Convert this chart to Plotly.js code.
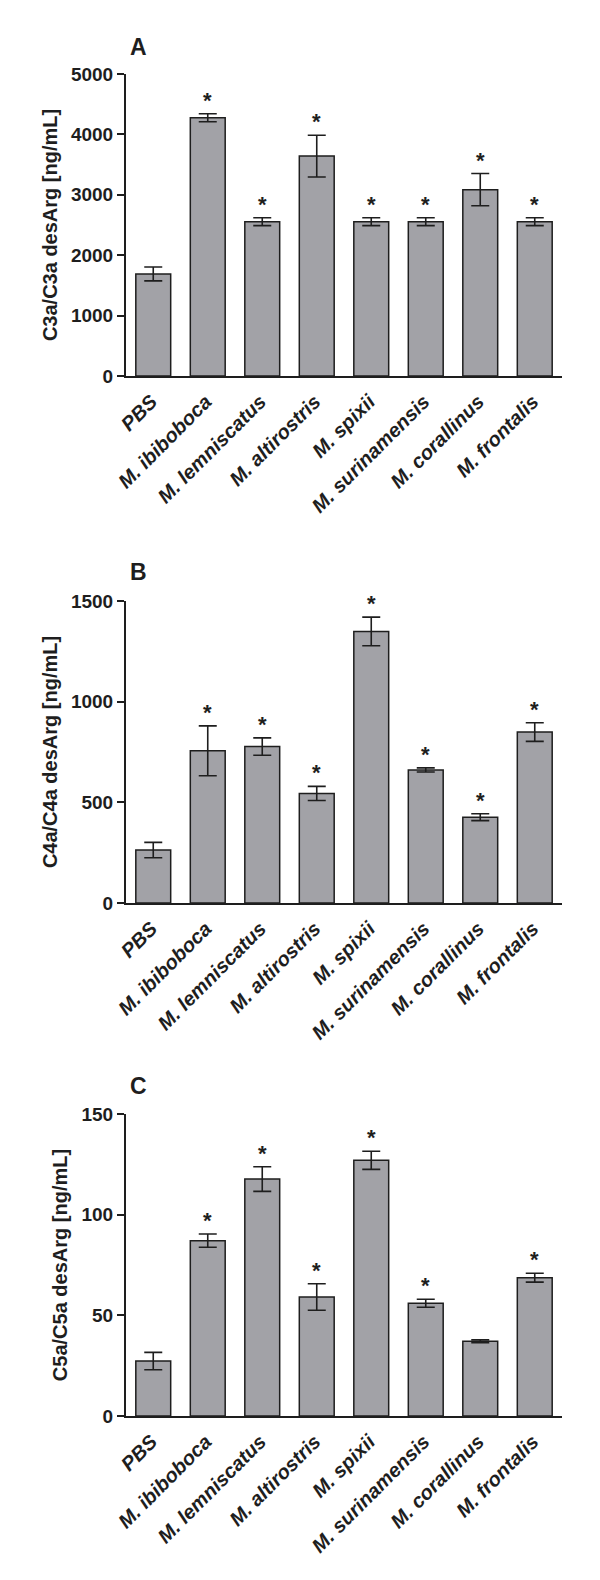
<!DOCTYPE html>
<html>
<head>
<meta charset="utf-8">
<script src="https://cdn.plot.ly/plotly-3.0.1.min.js"></script>
<style>
html,body{margin:0;padding:0;background:#fff;}
#chart{width:600px;height:1580px;}
</style>
</head>
<body>
<div id="chart"></div>
<script>
// ---- data ----
var categories = ['PBS', 'M. ibiboboca', 'M. lemniscatus', 'M. altirostris', 'M. spixii', 'M. surinamensis', 'M. corallinus', 'M. frontalis'];

var c3a    = [1690, 4275, 2555, 3640, 2555, 2555, 3085, 2555];
var c3aErr = [115, 66, 66, 345, 66, 66, 266, 66];
var c3aSig = [false, true, true, true, true, true, true, true];

var c4a    = [263, 756, 777, 544, 1349, 661, 426, 849];
var c4aErr = [38, 124, 43, 35, 71, 10, 17, 46];
var c4aSig = [false, true, true, true, true, true, true, true];

var c5a    = [27.3, 87.1, 117.7, 59.1, 127, 56, 37.1, 68.7];
var c5aErr = [4.3, 3.3, 6.1, 6.6, 4.5, 2, 0.7, 2.2];
var c5aSig = [false, true, true, true, true, true, false, true];

var panelLetters = ['A', 'B', 'C'];
var yTitles = ['C3a/C3a desArg [ng/mL]', 'C4a/C4a desArg [ng/mL]', 'C5a/C5a desArg [ng/mL]'];
var yRanges = [[0, 5000], [0, 1500], [0, 150]];
var yTicks = [[0, 1000, 2000, 3000, 4000, 5000], [0, 500, 1000, 1500], [0, 50, 100, 150]];

// ---- styling ----
var FONT = 'Liberation Sans, Arial, Helvetica, sans-serif';
var INK = '#1e1e1e';
var BAR = '#a2a2a7';

var series = [
  {v: c3a, e: c3aErr, s: c3aSig},
  {v: c4a, e: c4aErr, s: c4aSig},
  {v: c5a, e: c5aErr, s: c5aSig}
];

var domains = [[0.7620, 0.9532], [0.4285, 0.6196], [0.1038, 0.2949]];
var letterY = [1 - 47 / 1580, 1 - 572 / 1580, 1 - 1086 / 1580];

var traces = [];
var layout = {
  width: 600, height: 1580,
  margin: {l: 0, r: 0, t: 0, b: 0},
  paper_bgcolor: '#fff', plot_bgcolor: '#fff',
  showlegend: false,
  bargap: 0.36,
  font: {family: FONT, color: INK},
  annotations: []
};

series.forEach(function (d, i) {
  var suf = i === 0 ? '' : String(i + 1);
  traces.push({
    type: 'bar',
    x: categories, y: d.v,
    xaxis: 'x' + suf, yaxis: 'y' + suf,
    marker: {color: BAR, line: {color: INK, width: 1.5}},
    error_y: {type: 'data', array: d.e, visible: true, color: INK, thickness: 1.6, width: 9},
    hoverinfo: 'x+y'
  });
  for (var k = 0; k < categories.length; k++) {
    if (d.s[k]) {
      layout.annotations.push({
        text: '*', xref: 'x' + suf, yref: 'y' + suf,
        x: categories[k], y: d.v[k] + d.e[k],
        xanchor: 'center', yanchor: 'bottom', yshift: -1,
        showarrow: false,
        font: {family: FONT, size: 22, weight: 'bold', color: INK}
      });
    }
  }

  layout['xaxis' + suf] = {
    domain: [126 / 600, 562 / 600],
    anchor: 'y' + suf,
    type: 'category',
    range: [-0.5, 7.5],
    showline: true, linecolor: INK, linewidth: 2,
    ticks: '', showgrid: false, zeroline: false,
    tickangle: -45,
    ticklabelstandoff: 4,
    ticklabelshift: -2,
    tickfont: {family: FONT, size: 20, weight: 'bold', style: 'italic', color: INK},
    automargin: false
  };
  layout['yaxis' + suf] = {
    domain: domains[i],
    anchor: 'x' + suf,
    range: yRanges[i],
    tickvals: yTicks[i],
    showline: true, linecolor: INK, linewidth: 2,
    ticks: 'outside', ticklen: 7, tickwidth: 2, tickcolor: INK,
    showgrid: false, zeroline: false,
    tickfont: {family: FONT, size: 19, weight: 'bold', color: INK},
    title: {text: yTitles[i], font: {family: FONT, size: 20, weight: 'bold', color: INK}, standoff: 8},
    automargin: false
  };
  layout.annotations.push({
    text: panelLetters[i], xref: 'paper', yref: 'paper',
    x: 138 / 600, y: letterY[i], xanchor: 'center', yanchor: 'middle',
    showarrow: false,
    font: {family: FONT, size: 23, weight: 'bold', color: INK}
  });
});

Plotly.newPlot('chart', traces, layout, {staticPlot: true, displayModeBar: false});
</script>
</body>
</html>
